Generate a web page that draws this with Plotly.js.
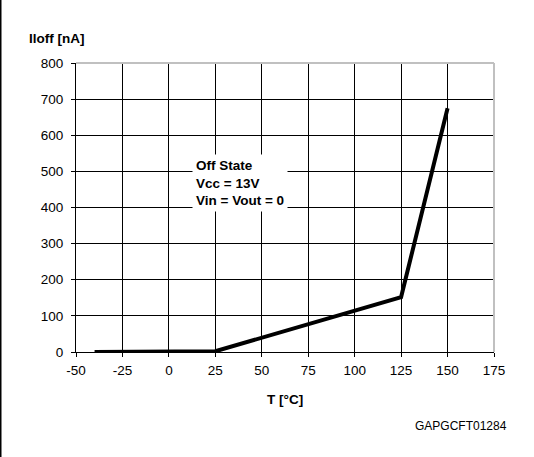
<!DOCTYPE html>
<html><head><meta charset="utf-8">
<script src="https://cdn.plot.ly/plotly-3.0.1.min.js"></script>
<style>html,body{margin:0;padding:0;background:#fff;}#chart{width:534px;height:457px;}</style>
</head><body><div id="chart"></div>
<script>
const temperature = [-40, 25, 125, 150];
const ioff = [0, 2, 152, 675];
const xTicks = [-50, -25, 0, 25, 50, 75, 100, 125, 150, 175];
const yTicks = [0, 100, 200, 300, 400, 500, 600, 700, 800];
const noteLines = ["Off State", "Vcc = 13V", "Vin = Vout = 0"];

const W = 534, H = 457, L = 76, R = 40, T = 63, B = 105;
const pw = W - L - R, ph = H - T - B;
const px = p => (p - L) / pw;
const py = p => (H - B - p) / ph;
const font = "'Liberation Sans', Arial, sans-serif";

const trace = {x: temperature, y: ioff, mode: 'lines', type: 'scatter',
  line: {color: '#000', width: 4}, hoverinfo: 'skip'};

const layout = {
  width: W, height: H, margin: {l: L, r: R, t: T, b: B},
  paper_bgcolor: '#fff', plot_bgcolor: '#fff', showlegend: false,
  font: {family: font, size: 13.5, color: '#000'},
  xaxis: {range: [-50, 175], tickvals: xTicks, ticktext: xTicks.map(String),
    showgrid: true, gridcolor: '#000', gridwidth: 1, zeroline: false,
    showline: true, linecolor: '#000', linewidth: 1,
    ticks: 'outside', ticklen: 4, tickcolor: '#000', ticklabelstandoff: 2, fixedrange: true},
  yaxis: {range: [0, 800], tickvals: yTicks, ticktext: yTicks.map(String),
    showgrid: true, gridcolor: '#000', gridwidth: 1, zeroline: false,
    showline: true, linecolor: '#000', linewidth: 1,
    ticks: 'outside', ticklen: 4, tickcolor: '#000', ticklabelstandoff: 5, fixedrange: true},
  shapes: [
    {type: 'line', xref: 'paper', yref: 'paper', x0: 0, x1: 1, y0: 1, y1: 1,
     line: {color: '#c0c0c0', width: 2}, layer: 'above'},
    {type: 'line', xref: 'paper', yref: 'paper', x0: 1, x1: 1, y0: 0, y1: 1,
     line: {color: '#c0c0c0', width: 2}, layer: 'above'},
    {type: 'line', xref: 'paper', yref: 'paper', x0: px(0.75), x1: px(0.75), y0: py(0), y1: py(H),
     line: {color: '#000', width: 1.5}}
  ],
  annotations: [
    {xref: 'paper', yref: 'paper', x: px(27), y: py(38), xanchor: 'left', yanchor: 'middle',
     text: '<b>Iloff [nA]</b>', showarrow: false, font: {size: 13.5}},
    {xref: 'paper', yref: 'paper', x: px(285), y: py(399), xanchor: 'center', yanchor: 'middle',
     text: '<b>T [°C]</b>', showarrow: false, font: {size: 13.5}},
    {xref: 'paper', yref: 'paper', x: px(509), y: py(426), xanchor: 'right', yanchor: 'middle',
     text: 'GAPGCFT01284', showarrow: false, font: {size: 12}},
    {xref: 'paper', yref: 'paper', x: px(192), y: py(183), xanchor: 'left', yanchor: 'middle',
     text: noteLines.map(s => '<b>' + s + '</b>').join('<br>'), align: 'left',
     showarrow: false, bgcolor: '#fff', borderpad: 3, font: {size: 13.5}}
  ]
};
Plotly.newPlot('chart', [trace], layout, {displayModeBar: false, staticPlot: true});
</script></body></html>
